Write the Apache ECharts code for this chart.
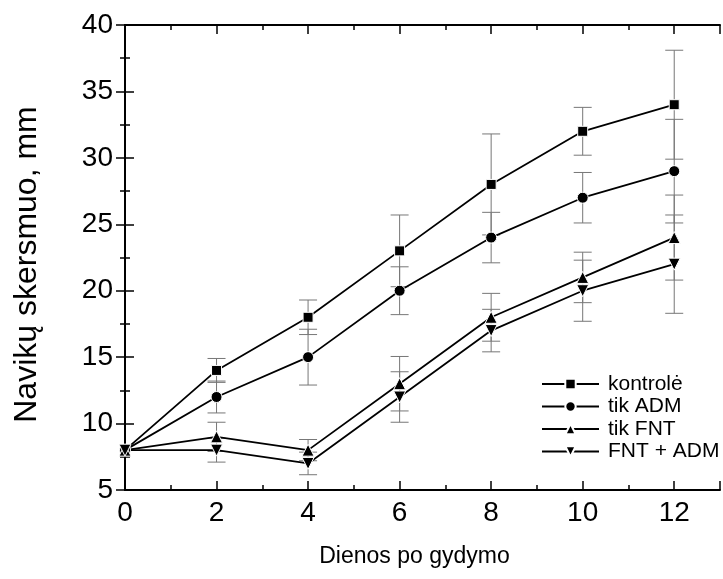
<!DOCTYPE html>
<html>
<head>
<meta charset="utf-8">
<script src="https://cdn.jsdelivr.net/npm/echarts@6/dist/echarts.min.js"></script>
<style>html,body{margin:0;padding:0;background:#fff;}#c{width:723px;height:579px;}</style>
</head>
<body>
<div id="c"></div>
<script>
var days = [0, 2, 4, 6, 8, 10, 12];
var seriesNames = ['kontrolė', 'tik ADM', 'tik FNT', 'FNT + ADM'];
var kontrole = [8, 14, 18, 23, 28, 32, 34];
var kontroleErr = [0, 0.9, 1.3, 2.7, 3.8, 1.8, 4.1];
var tikADM = [8, 12, 15, 20, 24, 27, 29];
var tikADMErr = [0, 1.2, 2.1, 1.8, 1.9, 1.9, 3.9];
var tikFNT = [8, 9, 8, 13, 18, 21, 24];
var tikFNTErr = [0, 1.1, 0.8, 2.05, 1.8, 1.9, 3.2];
var fntADM = [8, 8, 7, 12, 17, 20, 22];
var fntADMErr = [0, 0.9, 0.85, 1.9, 1.6, 2.3, 3.7];
var xTicks = [0, 2, 4, 6, 8, 10, 12];
var yTicks = [5, 10, 15, 20, 25, 30, 35, 40];

var FONT = 'Liberation Sans, Arial, sans-serif';
var values = [kontrole, tikADM, tikFNT, fntADM];
var errs = [kontroleErr, tikADMErr, tikFNTErr, fntADMErr];
var symbols = ['rect', 'circle', 'triangle', 'path://M0,0 L10,0 L5,9 Z'];
var sizes = [10, 11, 12, 12];

function errData(v, e) {
  return days.map(function (d, i) { return [d, v[i] - e[i], v[i] + e[i]]; });
}

function renderErr(params, api) {
  var x = api.value(0);
  var lo = api.coord([x, api.value(1)]);
  var hi = api.coord([x, api.value(2)]);
  if (Math.abs(hi[1] - lo[1]) < 0.5) return null;
  var hw = 9;
  var st = { stroke: '#777777', lineWidth: 1 };
  return {
    type: 'group',
    children: [
      { type: 'line', shape: { x1: lo[0], y1: lo[1], x2: hi[0], y2: hi[1] }, style: st },
      { type: 'line', shape: { x1: lo[0] - hw, y1: lo[1], x2: lo[0] + hw, y2: lo[1] }, style: st },
      { type: 'line', shape: { x1: hi[0] - hw, y1: hi[1], x2: hi[0] + hw, y2: hi[1] }, style: st }
    ]
  };
}

var series = [];
values.forEach(function (v, k) {
  series.push({
    type: 'custom',
    name: seriesNames[k] + ' err',
    renderItem: renderErr,
    data: errData(v, errs[k]),
    encode: { x: 0, y: [1, 2] },
    z: 1,
    silent: true
  });
});
values.forEach(function (v, k) {
  series.push({
    type: 'line',
    name: seriesNames[k],
    data: days.map(function (d, i) { return [d, v[i]]; }),
    symbol: symbols[k],
    symbolSize: sizes[k],
    showAllSymbol: true,
    lineStyle: { color: '#000', width: 1.8 },
    itemStyle: { color: '#000', borderColor: '#fff', borderWidth: 1 },
    z: 3,
    animation: false
  });
});

var axisCommon = {
  type: 'value',
  axisLine: { show: true, lineStyle: { color: '#000', width: 2 } },
  axisTick: { show: true, inside: true, length: 9, lineStyle: { color: '#000', width: 1.5 } },
  minorTick: { show: true, splitNumber: 2, length: 5, lineStyle: { color: '#000', width: 1.5 } },
  splitLine: { show: false },
  minorSplitLine: { show: false }
};

var option = {
  animation: false,
  backgroundColor: '#fff',
  grid: { left: 125, top: 25, right: -5, bottom: 89, containLabel: false },
  legend: {
    data: seriesNames,
    orient: 'vertical',
    left: 541,
    top: 373,
    padding: 0,
    itemWidth: 57,
    itemHeight: 13,
    itemGap: 0.5,
    textStyle: { fontFamily: FONT, fontSize: 21, color: '#000', lineHeight: 22, padding: [0, 0, 0, 4] }
  },
  xAxis: [
    Object.assign({}, axisCommon, {
      min: 0, max: 13, interval: 2, position: 'bottom',
      name: 'Dienos po gydymo', nameLocation: 'middle', nameGap: 55,
      nameTextStyle: { fontFamily: FONT, fontSize: 23, color: '#000', padding: [0, 16, 0, 0] },
      axisLabel: {
        fontFamily: FONT, fontSize: 28, color: '#000', margin: 9,
        formatter: function (val) { return xTicks.indexOf(val) >= 0 ? String(val) : ''; }
      }
    }),
    Object.assign({}, axisCommon, {
      min: 0, max: 13, interval: 2, position: 'top', axisLabel: { show: false }
    })
  ],
  yAxis: [
    Object.assign({}, axisCommon, {
      min: 5, max: 40, interval: 5, position: 'left',
      name: 'Navikų skersmuo, mm', nameLocation: 'middle', nameGap: 82, nameRotate: 90,
      nameTextStyle: { fontFamily: FONT, fontSize: 32, color: '#000', padding: [0, 14, 0, 0] },
      axisLabel: {
        fontFamily: FONT, fontSize: 28, color: '#000', margin: 12,
        formatter: function (val) { return yTicks.indexOf(val) >= 0 ? String(val) : ''; }
      }
    }),
    Object.assign({}, axisCommon, {
      min: 5, max: 40, interval: 5, position: 'right', axisLabel: { show: false }
    })
  ],
  series: series
};

var chart = echarts.init(document.getElementById('c'), null, { renderer: 'canvas' });
chart.setOption(option);
</script>
</body>
</html>
